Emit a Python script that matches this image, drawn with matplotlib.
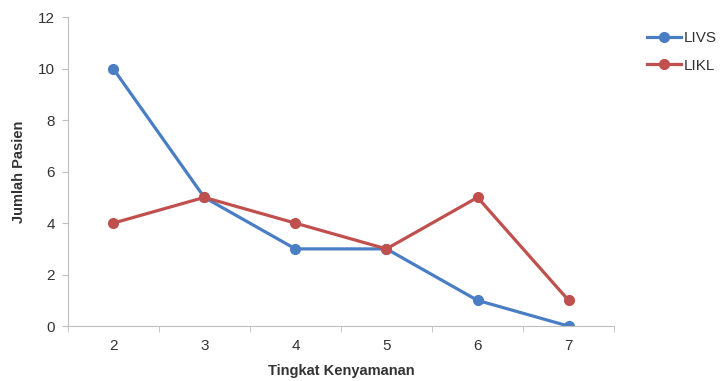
import matplotlib
matplotlib.use('Agg')
import matplotlib.pyplot as plt
from matplotlib.ticker import FixedLocator

plt.rcParams['font.family'] = ['Liberation Sans', 'DejaVu Sans']

# data
tingkat = [2, 3, 4, 5, 6, 7]
livs = [10, 5, 3, 3, 1, 0]
likl = [4, 5, 4, 3, 5, 1]

txt = '#333333'
grey = '#BFBFBF'

fig = plt.figure(figsize=(7.2, 3.81), dpi=100)
ax = fig.add_axes([0.094, 0.144, 0.759, 0.811])

ax.plot(tingkat, livs, color='#4A7EC4', lw=2.3, marker='o', ms=7, label='LIVS')
ax.plot(tingkat, likl, color='#C0504D', lw=2.3, marker='o', ms=7, label='LIKL')

ax.set_xlim(1.5, 7.5)
ax.set_ylim(0, 12)
ax.set_xticks(tingkat)
ax.xaxis.set_minor_locator(FixedLocator([1.5 + i for i in range(7)]))
ax.tick_params(axis='x', which='major', length=0, pad=9, labelsize=11, labelcolor=txt)
ax.tick_params(axis='x', which='minor', length=4, color=grey, direction='out')
ax.set_yticks(range(0, 13, 2))
ax.tick_params(axis='y', length=4, color=grey, labelsize=11, labelcolor=txt, pad=5)

for s in ['top', 'right']:
    ax.spines[s].set_visible(False)
for s in ['left', 'bottom']:
    ax.spines[s].set_color(grey)

ax.set_xlabel('Tingkat Kenyamanan', fontsize=10.5, fontweight='bold', color=txt, labelpad=8)
ax.set_ylabel('Jumlah Pasien', fontsize=10.5, fontweight='bold', color=txt, labelpad=9)

ax.legend(loc='upper left', bbox_to_anchor=(1.035, 1.0), frameon=False,
          fontsize=11, labelcolor=txt, handlelength=2.2, handletextpad=0.2,
          labelspacing=0.9)

fig.savefig('out.png', dpi=100)
